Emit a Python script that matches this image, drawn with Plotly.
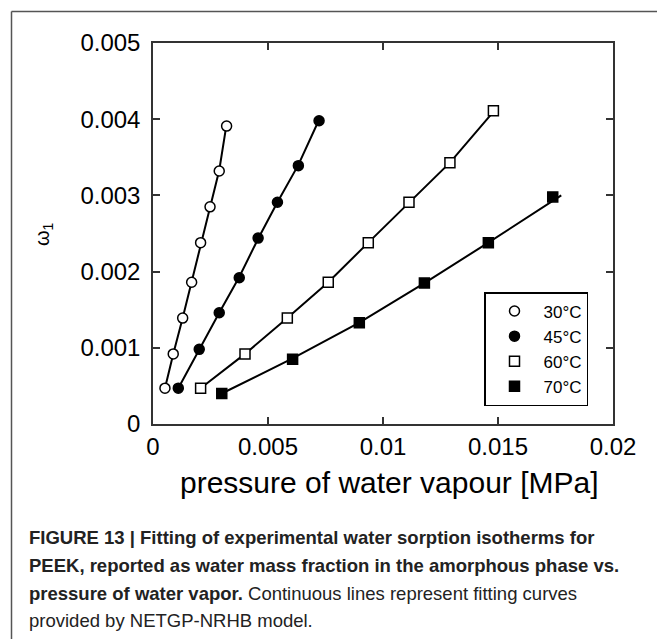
import plotly.graph_objects as go

# ---- data ----
labels = ["30°C", "45°C", "60°C", "70°C"]

p30 = [0.00052, 0.00088, 0.00129, 0.00168, 0.00207, 0.00248, 0.00288, 0.00320]
w30 = [0.00047, 0.00092, 0.00139, 0.00186, 0.00238, 0.00285, 0.00332, 0.00391]

p45 = [0.00110, 0.00201, 0.00288, 0.00375, 0.00457, 0.00541, 0.00632, 0.00722]
w45 = [0.00047, 0.00098, 0.00146, 0.00192, 0.00244, 0.00291, 0.00339, 0.00398]

p60 = [0.00207, 0.00400, 0.00584, 0.00762, 0.00936, 0.01113, 0.01291, 0.01480]
w60 = [0.00047, 0.00092, 0.00139, 0.00186, 0.00238, 0.00291, 0.00343, 0.00411]

p70 = [0.00299, 0.00607, 0.00897, 0.01180, 0.01458, 0.01738]
w70 = [0.00040, 0.00085, 0.00133, 0.00185, 0.00238, 0.00298]

# model fitting curves
fit_p30 = [0.00052, 0.00088, 0.00129, 0.00168, 0.00207, 0.00248, 0.00288, 0.00318]
fit_w30 = [0.00047, 0.00092, 0.00139, 0.00186, 0.00237, 0.00285, 0.00333, 0.00390]
fit_p45 = [0.00110, 0.00201, 0.00288, 0.00375, 0.00457, 0.00541, 0.00632, 0.00720]
fit_w45 = [0.00047, 0.00098, 0.00146, 0.00193, 0.00243, 0.00291, 0.00340, 0.00398]
fit_p60 = [0.00207, 0.00400, 0.00584, 0.00762, 0.00936, 0.01113, 0.01291, 0.01475]
fit_w60 = [0.00047, 0.00092, 0.00139, 0.00186, 0.00238, 0.00291, 0.00343, 0.00408]
fit_p70 = [0.00299, 0.00607, 0.00897, 0.01180, 0.01458, 0.01775]
fit_w70 = [0.00040, 0.00086, 0.00133, 0.00185, 0.00238, 0.00300]

x_ticks = [0, 0.005, 0.01, 0.015, 0.02]
x_ticktext = ["0", "0.005", "0.01", "0.015", "0.02"]
y_ticks = [0, 0.001, 0.002, 0.003, 0.004, 0.005]
y_ticktext = ["0", "0.001", "0.002", "0.003", "0.004", "0.005"]

series = [
    (p30, w30, fit_p30, fit_w30, "circle-open", labels[0]),
    (p45, w45, fit_p45, fit_w45, "circle", labels[1]),
    (p60, w60, fit_p60, fit_w60, "square-open", labels[2]),
    (p70, w70, fit_p70, fit_w70, "square", labels[3]),
]

FONT = "Liberation Sans, Arial, sans-serif"

fig = go.Figure()
for px, wy, fx, fy, sym, name in series:
    fig.add_trace(go.Scatter(x=fx, y=fy, mode="lines",
                             line=dict(color="black", width=2),
                             showlegend=False, hoverinfo="skip"))
for px, wy, fx, fy, sym, name in series:
    filled = not sym.endswith("open")
    fig.add_trace(go.Scatter(
        x=px, y=wy, mode="markers", name=name,
        marker=dict(symbol=sym.replace("-open", ""), size=10,
                    color="black" if filled else "white",
                    line=dict(color="black", width=1.5)),
    ))

axis_common = dict(
    showline=True, linecolor="#333", linewidth=1.5, mirror="ticks",
    ticks="inside", ticklen=7, tickwidth=1.5, tickcolor="#333",
    showgrid=False, zeroline=False,
    tickfont=dict(family=FONT, size=24, color="black"),
)

fig.update_xaxes(range=[0, 0.02], tickvals=x_ticks, ticktext=x_ticktext,
                 **axis_common)
fig.update_yaxes(range=[0, 0.005], tickvals=y_ticks, ticktext=y_ticktext,
                 ticklabelstandoff=6, **axis_common)

W, H = 657, 639
L, R, T, B = 153, 44, 43, 215
pw, ph = W - L - R, H - T - B

def px2x(px):
    return (px - L) / pw

def py2y(py):
    return (H - B - py) / ph

annotations = [
    dict(text="pressure of water vapour [MPa]", x=px2x(389), y=py2y(482),
         font=dict(family=FONT, size=30, color="black")),
    dict(text="ω<sub>1</sub>", x=px2x(44), y=py2y(234), textangle=-90,
         font=dict(family=FONT, size=20, color="black")),
]
caption_lines = [
    ("<b>FIGURE 13 | Fitting of experimental water sorption isotherms for</b>", 537),
    ("<b>PEEK, reported as water mass fraction in the amorphous phase vs.</b>", 565),
    ("<b>pressure of water vapor.</b> Continuous lines represent fitting curves", 593),
    ("provided by NETGP-NRHB model.", 620),
]
for txt, ypx in caption_lines:
    annotations.append(dict(text=txt, x=px2x(27), y=py2y(ypx), xanchor="left",
                            font=dict(family=FONT, size=18.5, color="#222")))
for a in annotations:
    a.setdefault("xanchor", "center")
    a.update(xref="paper", yref="paper", yanchor="middle", showarrow=False)

shapes = [
    dict(type="line", xref="paper", yref="paper",
         x0=px2x(11.5), x1=px2x(11.5), y0=py2y(11.5), y1=py2y(650),
         line=dict(color="#555", width=1.5)),
    dict(type="line", xref="paper", yref="paper",
         x0=px2x(11.5), x1=px2x(670), y0=py2y(11.5), y1=py2y(11.5),
         line=dict(color="#555", width=1.5)),
]

fig.update_layout(
    width=W, height=H,
    margin=dict(l=L, r=R, t=T, b=B, pad=0),
    paper_bgcolor="white", plot_bgcolor="white",
    showlegend=True,
    legend=dict(x=px2x(484), y=py2y(292), xanchor="left", yanchor="top",
                bgcolor="white", bordercolor="black", borderwidth=1.5,
                font=dict(family=FONT, size=17, color="black"),
                itemwidth=48, tracegroupgap=0),
    annotations=annotations,
    shapes=shapes,
)

fig.write_html("out.html")
